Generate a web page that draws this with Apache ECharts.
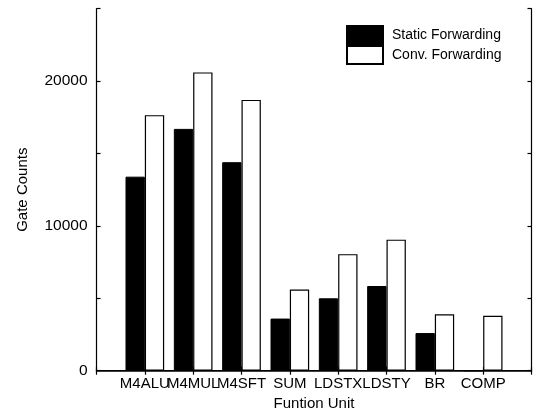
<!DOCTYPE html>
<html>
<head>
<meta charset="utf-8">
<script src="https://cdn.jsdelivr.net/npm/echarts@6/dist/echarts.min.js"></script>
<style>
  html, body { margin: 0; padding: 0; background: #fff; }
  #chart { width: 541px; height: 411px; }
</style>
</head>
<body>
<div id="chart"></div>
<script>
// Function units (empty slots pad both ends of the axis)
const units = ['', 'M4ALU', 'M4MUL', 'M4SFT', 'SUM', 'LDSTX', 'LDSTY', 'BR', 'COMP', ''];
// Gate counts per unit
const staticForwarding = [null, 13400, 16700, 14400, 3600, 5000, 5850, 2600, 0, null];
const convForwarding = [null, 17650, 20600, 18700, 5600, 8050, 9050, 3900, 3800, null];
// Y tick labels that are printed
const yLabels = [0, 10000, 20000];

const font = 'Liberation Sans, Arial, Helvetica, sans-serif';
const chart = echarts.init(document.getElementById('chart'), null, { renderer: 'canvas' });

const lineStyle = { color: '#000', width: 1.2 };

chart.setOption({
  animation: false,
  backgroundColor: '#fff',
  grid: { left: 96.5, right: 9.5, top: 8.7, bottom: 40.3, containLabel: false, outerBoundsMode: 'none' },
  legend: {
    orient: 'vertical',
    left: 346,
    top: 25,
    itemWidth: 36,
    itemHeight: 18,
    itemGap: 0,
    icon: 'rect',
    padding: 0,
    textStyle: { fontFamily: font, fontSize: 14, color: '#000', padding: [0, 0, 0, 4] },
    data: ['Static Forwarding', 'Conv. Forwarding']
  },
  xAxis: [
    {
      type: 'category',
      data: units,
      boundaryGap: false,
      name: 'Funtion Unit',
      nameLocation: 'middle',
      nameGap: 26,
      nameTextStyle: { fontFamily: font, fontSize: 15, color: '#000' },
      axisLine: { lineStyle: { color: '#000', width: 1.5 } },
      axisTick: { inside: true, length: 4, lineStyle: lineStyle, interval: 0 },
      axisLabel: { fontFamily: font, fontSize: 15, color: '#000', margin: 6, interval: 0 },
      splitLine: { show: false }
    },
    {
      type: 'category',
      position: 'top',
      data: units,
      boundaryGap: false,
      axisLine: { lineStyle: lineStyle },
      axisTick: { inside: true, length: 4, lineStyle: lineStyle, interval: 0 },
      axisLabel: { show: false },
      splitLine: { show: false }
    }
  ],
  yAxis: [
    {
      type: 'value',
      min: 0,
      max: 25000,
      interval: 5000,
      name: 'Gate Counts',
      nameLocation: 'middle',
      nameGap: 66,
      nameTextStyle: { fontFamily: font, fontSize: 15, color: '#000' },
      axisLine: { show: true, lineStyle: lineStyle },
      axisTick: { show: true, inside: true, length: 4, lineStyle: lineStyle },
      axisLabel: {
        fontFamily: font, fontSize: 15.5, color: '#000', margin: 9,
        formatter: v => (yLabels.indexOf(v) >= 0 ? String(v) : '')
      },
      splitLine: { show: false }
    },
    {
      type: 'value',
      position: 'right',
      min: 0,
      max: 25000,
      interval: 5000,
      axisLine: { show: true, lineStyle: lineStyle },
      axisTick: { show: true, inside: true, length: 4, lineStyle: lineStyle },
      axisLabel: { show: false },
      splitLine: { show: false }
    }
  ],
  series: [
    {
      name: 'Static Forwarding',
      type: 'bar',
      data: staticForwarding,
      barWidth: '40%',
      barGap: '0%',
      itemStyle: { color: '#000', borderColor: '#000', borderWidth: 1 }
    },
    {
      name: 'Conv. Forwarding',
      type: 'bar',
      data: convForwarding,
      barWidth: '40%',
      barGap: '0%',
      itemStyle: { color: '#fff', borderColor: '#000', borderWidth: 1.2 }
    }
  ]
});
</script>
</body>
</html>
